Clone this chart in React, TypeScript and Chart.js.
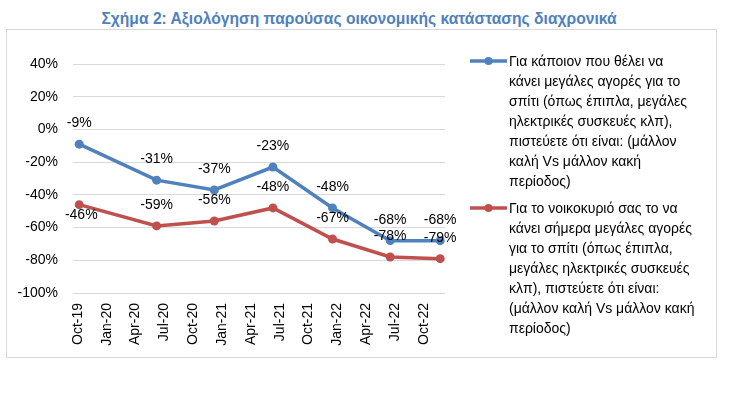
import React, { useEffect, useRef } from "react";
import { Chart, registerables } from "chart.js";

Chart.register(...registerables);

// ---- data ----
const titleText = "Σχήμα 2: Αξιολόγηση παρούσας οικονομικής κατάστασης διαχρονικά";
const xTickLabels = ["Oct-19", "Jan-20", "Apr-20", "Jul-20", "Oct-20", "Jan-21", "Apr-21", "Jul-21", "Oct-21", "Jan-22", "Apr-22", "Jul-22", "Oct-22"];
const xTickMonths = [0, 3, 6, 9, 12, 15, 18, 21, 24, 27, 30, 33, 36]; // months since Oct-19
const surveyMonths = [0.15, 8.2, 14.2, 20.3, 26.5, 32.5, 37.7];
const seriesBigPurchases = [-9, -31, -37, -23, -48, -68, -68];
const seriesHousehold = [-46, -59, -56, -48, -67, -78, -79];
const legendBlueLines = [
  "Για κάποιον που θέλει να",
  "κάνει μεγάλες αγορές για το",
  "σπίτι (όπως έπιπλα, μεγάλες",
  "ηλεκτρικές συσκευές κλπ),",
  "πιστεύετε ότι είναι: (μάλλον",
  "καλή Vs μάλλον κακή",
  "περίοδος)",
];
const legendRedLines = [
  "Για το νοικοκυριό σας το να",
  "κάνει σήμερα μεγάλες αγορές",
  "για το σπίτι (όπως έπιπλα,",
  "μεγάλες ηλεκτρικές συσκευές",
  "κλπ), πιστεύετε ότι είναι:",
  "(μάλλον καλή Vs μάλλον κακή",
  "περίοδος)",
];
const yMin = -100;
const yMax = 40;
const yStep = 20;

const BLUE = "#4F81BD";
const RED = "#C0504D";
const FONT = "'Liberation Sans', Arial, sans-serif";

const dataLabelPlugin = {
  id: "dataLabels",
  afterDatasetsDraw(chart: any) {
    const ctx = chart.ctx;
    ctx.save();
    ctx.font = `14px ${FONT}`;
    ctx.fillStyle = "#000";
    ctx.textAlign = "center";
    ctx.textBaseline = "middle";
    chart.data.datasets.forEach((ds: any, di: number) => {
      const meta = chart.getDatasetMeta(di);
      const below: number[] = ds.labelBelow || [];
      meta.data.forEach((pt: any, i: number) => {
        const v = ds.data[i].y;
        const isBelow = below.includes(i);
        const dy = isBelow ? 10 : -21;
        const dx = isBelow ? 2 : 0;
        ctx.fillText(`${v}%`, pt.x + dx, pt.y + dy);
      });
    });
    ctx.restore();
  },
};

function LegendItem({ color, lines, top }: { color: string; lines: string[]; top: number }) {
  return (
    <div style={{ position: "absolute", left: 470, top, display: "flex", alignItems: "flex-start" }}>
      <svg width={39} height={20} style={{ flex: "none" }}>
        <line x1={0} y1={10} x2={37} y2={10} stroke={color} strokeWidth={3.5} />
        <circle cx={18.5} cy={10} r={4} fill={color} />
      </svg>
      <div style={{ font: `14px ${FONT}`, lineHeight: "20px", color: "#000", whiteSpace: "nowrap" }}>
        {lines.map((l, i) => (
          <div key={i}>{l}</div>
        ))}
      </div>
    </div>
  );
}

export default function App() {
  const ref = useRef<HTMLCanvasElement | null>(null);

  useEffect(() => {
    document.body.style.margin = "0";
    const canvas = ref.current;
    if (!canvas) return;
    const chart = new Chart(canvas, {
      type: "line",
      data: {
        datasets: [
          {
            label: legendBlueLines.join(" "),
            data: surveyMonths.map((m, i) => ({ x: m, y: seriesBigPurchases[i] })),
            borderColor: BLUE,
            backgroundColor: BLUE,
            borderWidth: 3.5,
            pointRadius: 4.5,
            pointBorderWidth: 0,
            pointBackgroundColor: BLUE,
            tension: 0,
          } as any,
          {
            label: legendRedLines.join(" "),
            data: surveyMonths.map((m, i) => ({ x: m, y: seriesHousehold[i] })),
            borderColor: RED,
            backgroundColor: RED,
            borderWidth: 3.5,
            pointRadius: 4.5,
            pointBorderWidth: 0,
            pointBackgroundColor: RED,
            tension: 0,
            labelBelow: [0],
          } as any,
        ],
      },
      options: {
        animation: false,
        responsive: false,
        events: [],
        layout: { padding: { top: 64, left: 0, right: 284, bottom: 42 } },
        plugins: {
          legend: { display: false },
          tooltip: { enabled: false },
          title: { display: false },
        },
        scales: {
          x: {
            type: "linear",
            min: -0.5,
            max: 38.2,
            grid: { display: false, drawTicks: false },
            border: { display: false },
            afterBuildTicks: (scale: any) => {
              scale.ticks = xTickMonths.map((v) => ({ value: v }));
            },
            afterFit: (scale: any) => {
              scale.height = 60;
            },
            ticks: {
              autoSkip: false,
              maxRotation: 90,
              minRotation: 90,
              padding: 10,
              color: "#000",
              font: { family: FONT, size: 14 },
              callback: (v: any) => {
                const idx = xTickMonths.indexOf(Number(v));
                return idx >= 0 ? xTickLabels[idx] : "";
              },
            },
          },
          y: {
            type: "linear",
            min: yMin,
            max: yMax,
            grid: { color: "#D9D9D9", drawTicks: false, lineWidth: 1 },
            border: { display: false },
            afterFit: (scale: any) => {
              scale.width = 73;
            },
            ticks: {
              stepSize: yStep,
              padding: 15,
              color: "#000",
              font: { family: FONT, size: 14 },
              callback: (v: any) => `${v}%`,
            },
          },
        },
      },
      plugins: [dataLabelPlugin],
    });
    return () => chart.destroy();
  }, []);

  return (
    <div style={{ position: "relative", width: 729, height: 395, background: "#fff", overflow: "hidden" }}>
      <div
        style={{
          position: "absolute",
          left: 6,
          top: 29,
          width: 711,
          height: 329,
          border: "1px solid #D9D9D9",
          boxSizing: "border-box",
        }}
      />
      <div
        style={{
          position: "absolute",
          left: 0,
          width: 718,
          top: 9,
          textAlign: "center",
          font: `bold 15.65px ${FONT}`,
          lineHeight: "20px",
          color: BLUE,
          whiteSpace: "nowrap",
        }}
      >
        {titleText}
      </div>
      <canvas ref={ref} width={729} height={395} style={{ position: "absolute", left: 0, top: 0 }} />
      <LegendItem color={BLUE} lines={legendBlueLines} top={51} />
      <LegendItem color={RED} lines={legendRedLines} top={198} />
    </div>
  );
}
